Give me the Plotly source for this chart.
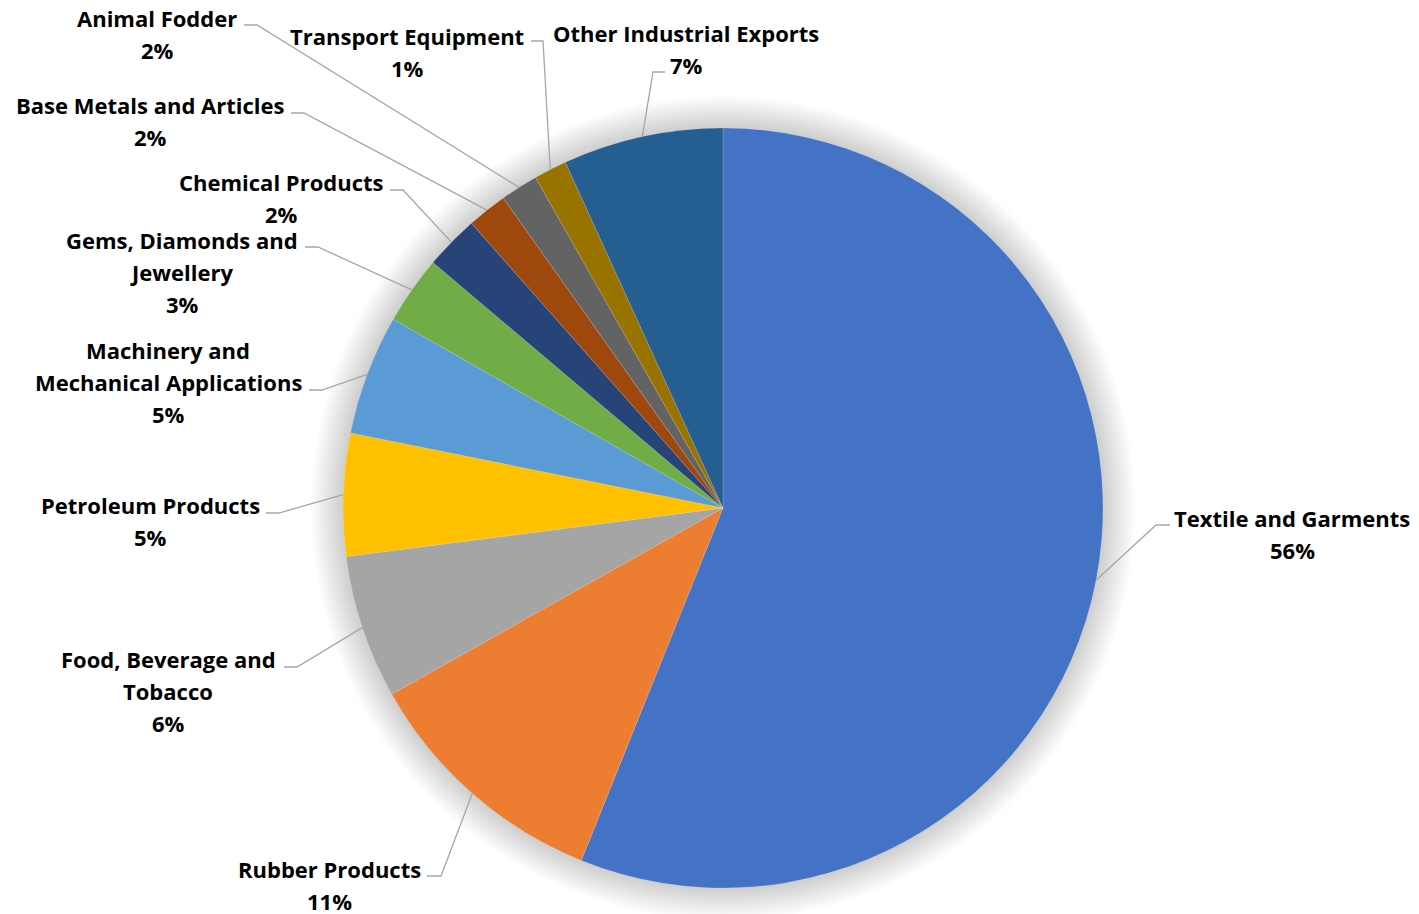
import numpy as np
import plotly.graph_objects as go

# shares of export value (per cent)
categories = [
    "Textile and Garments", "Rubber Products", "Food, Beverage and Tobacco",
    "Petroleum Products", "Machinery and Mechanical Applications",
    "Gems, Diamonds and Jewellery", "Chemical Products",
    "Base Metals and Articles", "Animal Fodder", "Transport Equipment",
    "Other Industrial Exports",
]
shares = [56.0, 10.75, 6.1, 5.2, 5.1, 2.9, 2.3, 1.7, 1.6, 1.4, 6.8]
label_lines = [
    ["Textile and Garments"], ["Rubber Products"], ["Food, Beverage and", "Tobacco"],
    ["Petroleum Products"], ["Machinery and", "Mechanical Applications"],
    ["Gems, Diamonds and", "Jewellery"], ["Chemical Products"],
    ["Base Metals and Articles"], ["Animal Fodder"], ["Transport Equipment"],
    ["Other Industrial Exports"],
]
colors = ["#4472C4", "#ED7D31", "#A5A5A5", "#FFC000", "#5B9BD5", "#70AD47",
          "#264478", "#9E480E", "#636363", "#997300", "#255E91"]

W, H = 1419, 914
CX, CY, R = 723, 508, 380
LINE_H = 32
FONT = dict(family="Open Sans", size=22, color="#000000")

# label placement (pixels): text centre x, first line y, stub start x, stub y, stub end x
label_pos = [
    (1292, 518, 1170, 525, 1156),
    (329, 869, 427, 876, 441),
    (168, 659, 284, 667, 297),
    (150, 505, 266, 513, 279),
    (168, 350, 309, 390, 322),
    (182, 240, 305, 247, 318),
    (281, 182, 390, 190, 403),
    (150, 105, 291, 113, 304),
    (157, 18, 244, 25, 257),
    (407, 36, 531, 41, 543),
    (686, 33, 665, 72, 653),
]


def px(x):
    return x / W


def py(y):
    return 1 - y / H


fig = go.Figure(go.Pie(
    labels=categories,
    values=shares,
    sort=False,
    direction="clockwise",
    rotation=0,
    marker=dict(colors=colors, line=dict(color="rgba(255,255,255,0.25)", width=0.6)),
    textinfo="none",
    hoverinfo="label+percent",
    domain=dict(x=[px(CX - R), px(CX + R)], y=[py(CY + R), py(CY - R)]),
    showlegend=False,
))

shapes = []
# soft shadow behind the pie
for k in range(16):
    rr = R + 2 + k * 2
    shapes.append(dict(
        type="circle", xref="paper", yref="paper",
        xsizemode="pixel", ysizemode="pixel",
        xanchor=px(CX), yanchor=py(CY),
        x0=-rr, x1=rr, y0=-rr, y1=rr,
        fillcolor="rgba(0,0,0,0.012)", line=dict(width=0), layer="below",
    ))

annotations = []
total = sum(shares)
cum = np.cumsum([0] + shares) / total
pcts = [round(v / total * 100) for v in shares]
for i, lines in enumerate(label_lines):
    tx, ty, sx, sy, ex = label_pos[i]
    for j, line in enumerate(lines + [f"{pcts[i]}%"]):
        annotations.append(dict(
            x=px(tx), y=py(ty + j * LINE_H), xref="paper", yref="paper",
            text=f"<b>{line}</b>", showarrow=False, font=FONT,
            xanchor="center", yanchor="middle",
        ))
    mid = (cum[i] + cum[i + 1]) / 2 * 2 * np.pi
    ax = CX + R * np.sin(mid)
    ay = CY - R * np.cos(mid)
    shapes.append(dict(
        type="path", xref="paper", yref="paper",
        path=f"M {px(sx)},{py(sy)} L {px(ex)},{py(sy)} L {px(ax)},{py(ay)}",
        line=dict(color="#A6A6A6", width=1.3),
    ))

fig.update_layout(
    width=W, height=H,
    margin=dict(l=0, r=0, t=0, b=0),
    paper_bgcolor="white",
    plot_bgcolor="white",
    shapes=shapes,
    annotations=annotations,
)

fig.write_html("out.html", config={"displayModeBar": False},
               post_script="document.body.style.margin = '0';")
